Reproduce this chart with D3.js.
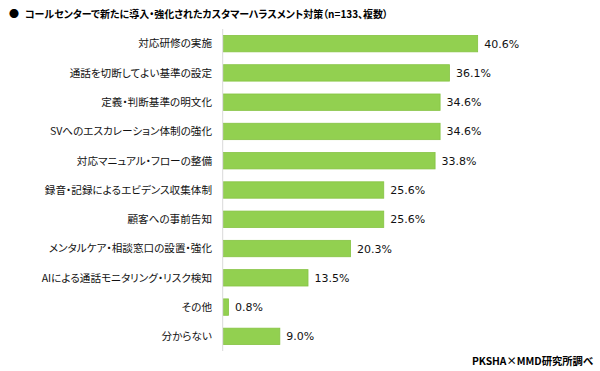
<!DOCTYPE html>
<html>
<head>
<meta charset="utf-8">
<script src="https://cdn.jsdelivr.net/npm/d3@7"></script>
<style>
	body { margin: 0; background: #fff; }
	svg { display: block; }
	.jp { font-feature-settings: "palt"; }
</style>
</head>
<body>
<svg id="chart"></svg>
<script>
// data
const categories = [
	"対応研修の実施",
	"通話を切断してよい基準の設定",
	"定義・判断基準の明文化",
	"SVへのエスカレーション体制の強化",
	"対応マニュアル・フローの整備",
	"録音・記録によるエビデンス収集体制",
	"顧客への事前告知",
	"メンタルケア・相談窓口の設置・強化",
	"AIによる通話モニタリング・リスク検知",
	"その他",
	"分からない"
];
const values = [40.6, 36.1, 34.6, 34.6, 33.8, 25.6, 25.6, 20.3, 13.5, 0.8, 9.0];
const title = "コールセンターで新たに導入・強化されたカスタマーハラスメント対策（n=133、複数）";
const source = "PKSHA×MMD研究所調べ";

const width = 600, height = 371;
const svg = d3.select("#chart").attr("width", width).attr("height", height);

const x = d3.scaleLinear().domain([0, 45]).range([223.5, 505.2]);
const y = d3.scaleBand().domain(categories).range([29, 351])
			.paddingInner(0.44).paddingOuter(0.22);

const jp = "'Noto Sans CJK JP', sans-serif";

// title
svg.append("text")
	.attr("x", 9).attr("y", 18)
	.attr("font-family", jp).attr("font-size", 10)
	.text("●");
svg.append("text")
	.attr("class", "jp")
	.attr("x", 25).attr("y", 18)
	.attr("font-family", jp).attr("font-size", 10.5).attr("font-weight", "bold")
	.attr("textLength", 363).attr("lengthAdjust", "spacingAndGlyphs")
	.text(title);

// bars
svg.selectAll("rect.bar")
	.data(values)
	.join("rect")
	.attr("class", "bar")
	.attr("x", x(0))
	.attr("y", (d, i) => y(categories[i]))
	.attr("width", d => x(d) - x(0))
	.attr("height", y.bandwidth())
	.attr("fill", "#92d050")
	.attr("stroke", "#86c343")
	.attr("stroke-width", 0.8);

// axis line
svg.append("line")
	.attr("x1", x(0) - 0.8).attr("x2", x(0) - 0.8)
	.attr("y1", y.range()[0]).attr("y2", y.range()[1])
	.attr("stroke", "#d9d9d9").attr("stroke-width", 1);

// category labels
svg.selectAll("text.cat")
	.data(categories)
	.join("text")
	.attr("class", "cat jp")
	.attr("x", 212)
	.attr("y", d => y(d) + y.bandwidth() / 2)
	.attr("dy", "0.36em")
	.attr("text-anchor", "end")
	.attr("font-family", jp).attr("font-size", 10.6)
	.attr("fill", "#111")
	.text(d => d);

// value labels
svg.selectAll("text.val")
	.data(values)
	.join("text")
	.attr("class", "val")
	.attr("x", d => x(d) + 6.5)
	.attr("y", (d, i) => y(categories[i]) + y.bandwidth() / 2)
	.attr("dy", "0.36em")
	.attr("font-family", "'DejaVu Sans', sans-serif").attr("font-size", 11)
	.attr("fill", "#111")
	.text(d => d.toFixed(1) + "%");

// source
svg.append("text")
	.attr("class", "jp")
	.attr("x", 593).attr("y", 365)
	.attr("text-anchor", "end")
	.attr("font-family", jp).attr("font-size", 10.3).attr("font-weight", "bold")
	.text(source);
</script>
</body>
</html>
